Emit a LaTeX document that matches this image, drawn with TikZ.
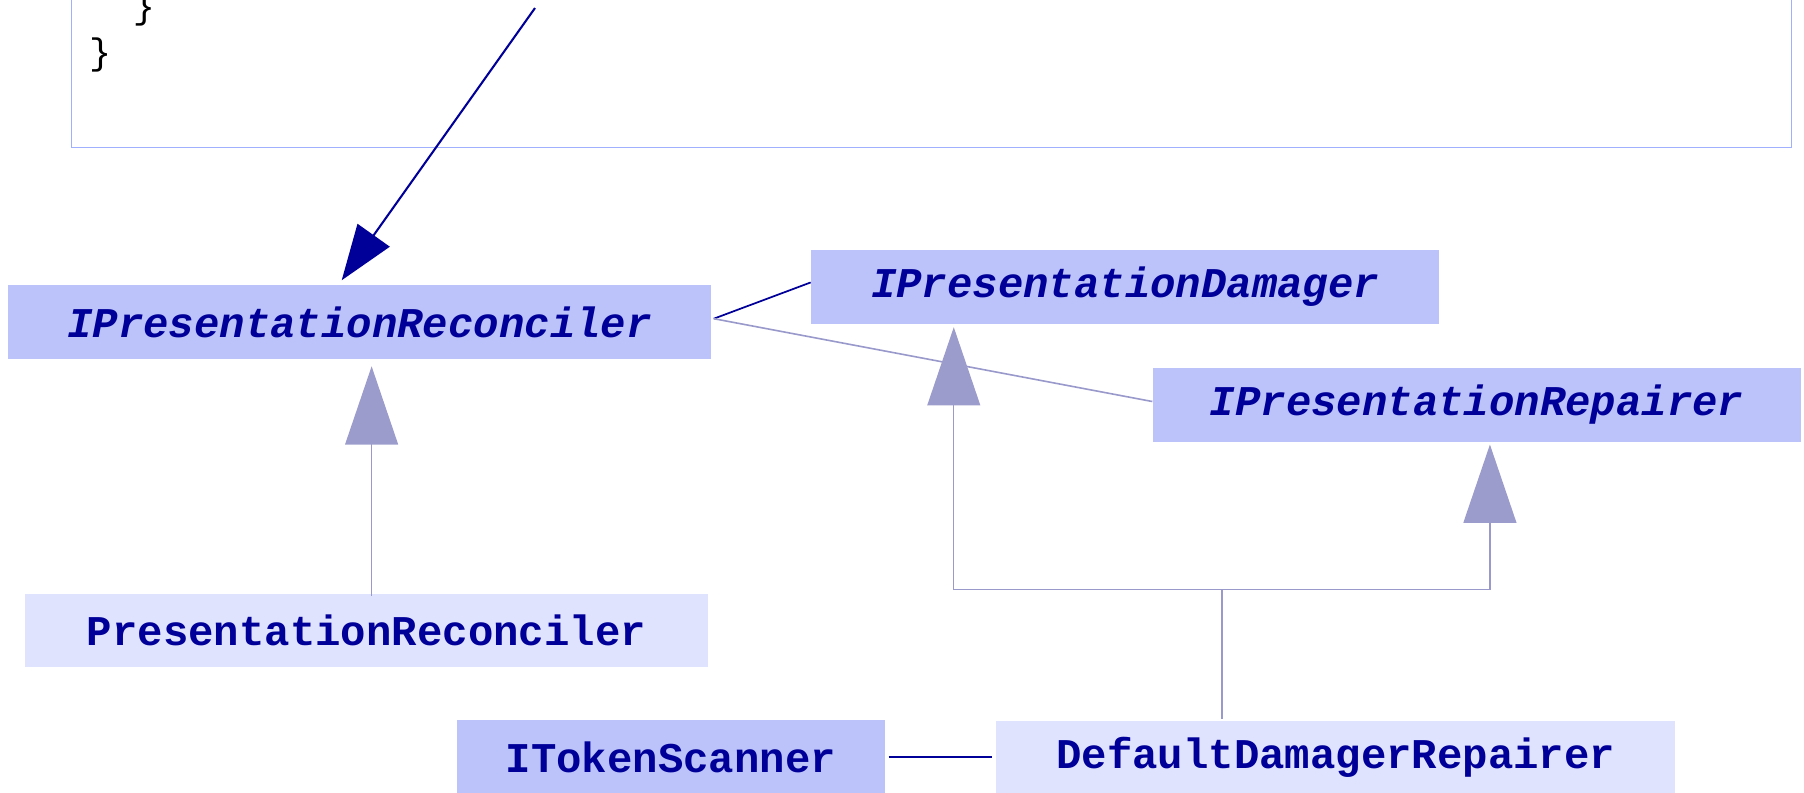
\documentclass[tikz,border=0pt]{standalone}
\usepackage{fontspec}
\usetikzlibrary{arrows.meta,calc}
\newfontfamily\classfont{Liberation Mono}
\definecolor{boxdark}{RGB}{187,195,250}
\definecolor{boxlight}{RGB}{224,227,253}
\definecolor{textblue}{RGB}{0,0,153}
\definecolor{trifill}{RGB}{156,156,204}
\definecolor{grayline}{RGB}{153,153,204}
\definecolor{codeframe}{RGB}{160,176,255}
\begin{document}
\begin{tikzpicture}[x=0.5pt,y=-0.5pt,
  cls/.style={inner sep=0pt, text=textblue, minimum height=32pt},
  clsfont/.style={font=\classfont\bfseries\fontsize{18.4pt}{20pt}\selectfont},
  clsfontit/.style={font=\classfont\bfseries\itshape\fontsize{18.4pt}{20pt}\selectfont},
  iface/.style={cls, fill=boxdark, clsfontit},
  ifaceup/.style={cls, fill=boxdark, clsfont},
  impl/.style={cls, fill=boxlight, clsfont},
  codetext/.style={inner sep=0pt, text=black, font=\classfont\fontsize{16pt}{18pt}\selectfont},
  gen/.style={draw=grayline, line width=0.5pt,
    -{Triangle[length=34pt, width=23pt, fill=trifill, color=trifill]}},
  genbar/.style={draw=grayline, line width=0.6pt},
  assoc/.style={draw=textblue, line width=0.9pt, -{Triangle[length=24pt, width=17pt]}},
  link/.style={draw=textblue, line width=0.75pt},
  softlink/.style={draw=grayline, line width=0.7pt}]

\path[use as bounding box, clip] (0,0) rectangle (1568,689);

% code listing frame
\draw[codeframe, line width=0.45pt] (62,-10) rectangle (1557,128);
\node[codetext] (b1) at (125,8) {\}};
\node[codetext] (b2) at (87,48) {\}};
\coordinate (src) at (465,7);

% classes and interfaces
\node[iface, minimum width=305.5pt] (ipr) at (312.5,280) {IPresentationReconciler};
\node[iface, minimum width=273pt, minimum height=32.5pt] (ipd) at (978,249.5) {IPresentationDamager};
\node[iface, minimum width=281.5pt] (iprep) at (1283.5,352) {IPresentationRepairer};
\node[impl, minimum width=296.5pt] (pr) at (318.5,548) {PresentationReconciler};
\node[ifaceup, minimum width=186pt] (its) at (583,658) {ITokenScanner};
\node[impl, minimum width=295pt, minimum height=31pt] (ddr) at (1161,658) {DefaultDamagerRepairer};

% associations
\draw[assoc] (src) -- ([xshift=-7.75pt,yshift=2pt]ipr.north);
\draw[link] ([xshift=1pt,yshift=1.5pt]ipr.east) -- ([yshift=2pt]ipd.west);
\draw[softlink] ([xshift=1pt,yshift=1.5pt]ipr.east) -- ([yshift=1.5pt]iprep.west);
\draw[link, shorten <=1.5pt, shorten >=1.5pt] (its.east) -- (ddr.west);

% generalisations
\draw[gen, shorten >=3pt] ($(pr.north)+(4.5,2)$) -- ($(ipr.south)+(10.5,0)$);
\coordinate (jx) at ($(ddr.north)+(-99,-114)$);
\draw[genbar] ($(ddr.north)+(-99,-2)$) -- (jx);
\draw[gen, shorten >=1pt] (jx) -| ($(ipd.south)+(-149,0)$);
\draw[gen, shorten >=1pt] (jx) -| ($(iprep.south)+(11.5,0)$);
\end{tikzpicture}
\end{document}
